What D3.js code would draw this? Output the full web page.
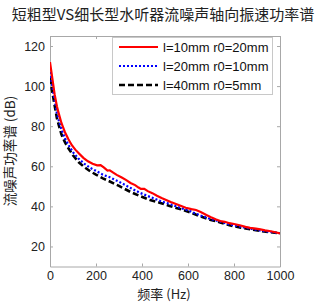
<!DOCTYPE html>
<html><head><meta charset="utf-8">
<script src="https://cdn.jsdelivr.net/npm/d3@7"></script>
<style>body{margin:0;background:#fff}svg{display:block}</style>
</head><body>
<svg id="c" width="324" height="303"></svg>
<script>
const title = "短粗型VS细长型水听器流噪声轴向振速功率谱";
const xLabel = "频率 (Hz)";
const yLabel = "流噪声功率谱 (dB)";
const xTicks = [0, 200, 400, 600, 800, 1000];
const yTicks = [20, 40, 60, 80, 100, 120];
const seriesNames = ["l=10mm r0=20mm", "l=20mm r0=10mm", "l=40mm r0=5mm"];

const redF = [0,5,10,20,30,40,50,65,80,95,110,125,145,165,185,205,220,235,250,260,275,290,310,330,350,370,385,395,410,425,445,465,485,505,525,545,565,590,615,635,655,680,700,720,740,760,780,800,825,850,870,895,915,935,960,980,1000];
const redV = [112,108,104,96,90,85.5,81.5,77,73.5,70.5,68.3,66.5,64.2,62.5,61.3,60.5,60.6,59.3,57.8,58.0,56.8,55.7,54.5,53.2,51.7,50.6,49.4,48.7,48.7,47.6,46.6,45.3,44.2,43.2,42.2,41.3,40.4,39.3,38.6,38.2,37.2,35.7,34.6,33.6,32.7,32.3,31.6,31.2,30.6,29.8,29.3,28.9,28.5,28.0,27.6,27.1,26.5];

const blueF = [0,5,10,20,30,40,50,65,80,100,125,150,175,200,230,260,300,350,390,435,480,520,565,610,650,700,740,780,830,870,910,960,1000];
const blueV = [107,103.5,100,93,86.3,82,78.3,74,70.7,67,63.7,61.2,59.2,57.7,55.8,54.5,52.3,49.2,46.8,44.7,42.7,41.2,39.3,37.6,35.6,33.6,32.4,31.0,29.8,28.9,28.0,27.3,26.6];

const blackF = [0,5,10,20,30,40,50,65,80,100,125,150,175,200,230,260,300,350,390,435,480,520,565,610,650,700,740,780,830,870,910,960,1000];
const blackV = [104,100.5,97,90.5,84,79.8,75.8,72,69,65.5,62,59.5,57.5,55.8,54,52.4,50.2,47.2,45.2,43.2,41.7,40.2,38.7,37.0,35.2,33.2,32.0,30.6,29.4,28.6,27.8,27.1,26.5];

const svg = d3.select("#c");
const L = 50, R = 280, T = 36, B = 266.5;
const x = d3.scaleLinear().domain([0, 1000]).range([L, R]);
const y = d3.scaleLinear().domain([10, 125]).range([B, T]);
const sans = "Liberation Sans, Arial, sans-serif";
const cjk = "'Noto Sans CJK SC', sans-serif";
const axisCol = "#a8a8a8";
const fmt = d3.format("d");

// axes
const gx = svg.append("g").attr("transform", `translate(0,${B})`)
  .call(d3.axisBottom(x).tickValues(xTicks).tickSizeInner(-3).tickSizeOuter(0).tickPadding(5).tickFormat(fmt));
const gxt = svg.append("g").attr("transform", `translate(0,${T})`)
  .call(d3.axisTop(x).tickValues(xTicks).tickSizeInner(-3).tickSizeOuter(0).tickFormat(""));
const gy = svg.append("g").attr("transform", `translate(${L},0)`)
  .call(d3.axisLeft(y).tickValues(yTicks).tickSizeInner(-3).tickSizeOuter(0).tickPadding(5).tickFormat(fmt));
const gyr = svg.append("g").attr("transform", `translate(${R},0)`)
  .call(d3.axisRight(y).tickValues(yTicks).tickSizeInner(-3).tickSizeOuter(0).tickFormat(""));
[gx, gxt, gy, gyr].forEach(g => {
  g.selectAll("path,line").attr("stroke", axisCol).attr("stroke-width", 1);
  g.selectAll("text").attr("font-family", sans).attr("font-size", 12.5).attr("fill", "#222");
});

// lines
const line = d3.line().x(d => x(d[0])).y(d => y(d[1]));
const series = [
  {f: blackF, v: blackV, color: "#000", w: 2.6, dash: "6,3"},
  {f: blueF, v: blueV, color: "#0000ff", w: 2.2, dash: "2,2"},
  {f: redF, v: redV, color: "#ff0000", w: 2.2, dash: null}
];
svg.append("clipPath").attr("id", "cp").append("rect")
  .attr("x", L).attr("y", T).attr("width", R - L).attr("height", B - T);
series.forEach(s => {
  svg.append("path").datum(s.f.map((f, i) => [f, s.v[i]]))
    .attr("d", line).attr("fill", "none").attr("stroke", s.color)
    .attr("stroke-width", s.w).attr("stroke-dasharray", s.dash)
    .attr("clip-path", "url(#cp)");
});

// legend
const lg = svg.append("g");
lg.append("rect").attr("x", 112.5).attr("y", 37.5).attr("width", 160).attr("height", 57)
  .attr("fill", "#fff").attr("stroke", "#c8c8c8").attr("stroke-width", 1);
const legendStyles = [
  {color: "#ff0000", w: 2.2, dash: null},
  {color: "#0000ff", w: 2.2, dash: "2,2"},
  {color: "#000", w: 2.6, dash: "6,3"}
];
seriesNames.forEach((n, i) => {
  const yy = 47 + i * 19;
  lg.append("line").attr("x1", 119).attr("x2", 158).attr("y1", yy).attr("y2", yy)
    .attr("stroke", legendStyles[i].color).attr("stroke-width", legendStyles[i].w)
    .attr("stroke-dasharray", legendStyles[i].dash);
  lg.append("text").attr("x", 163).attr("y", yy + 4.5).text(n)
    .attr("font-family", sans).attr("font-size", 13).attr("fill", "#111");
});

// titles
svg.append("text").attr("x", 163).attr("y", 20).attr("text-anchor", "middle")
  .attr("font-family", cjk).attr("font-size", 15).attr("fill", "#222").text(title);
svg.append("text").attr("x", 164).attr("y", 299).attr("text-anchor", "middle")
  .attr("font-family", cjk).attr("font-size", 13).attr("fill", "#222").text(xLabel);
svg.append("text").attr("transform", `translate(15,151) rotate(-90)`).attr("text-anchor", "middle")
  .attr("font-family", cjk).attr("font-size", 13.5).attr("fill", "#222").text(yLabel);
</script>
</body></html>
